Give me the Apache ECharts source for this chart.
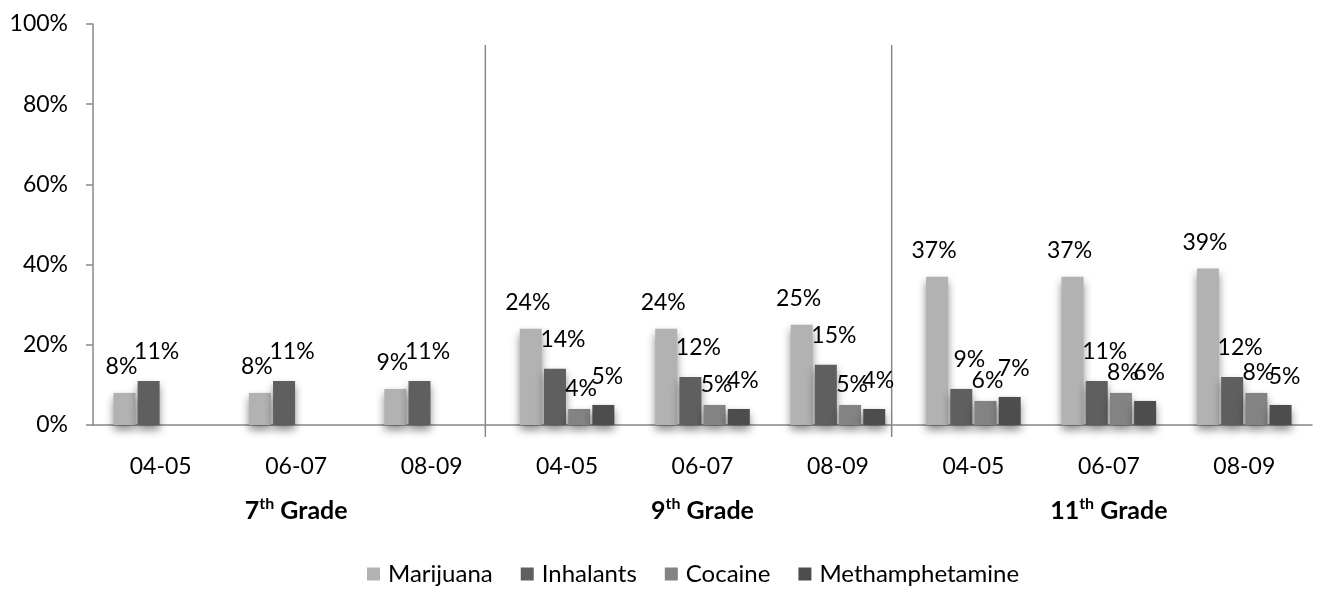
<!DOCTYPE html>
<html>
<head>
<meta charset="utf-8">
<script src="https://cdn.jsdelivr.net/npm/echarts@6/dist/echarts.min.js"></script>
<style>
  html, body { margin: 0; padding: 0; background: #fff; }
  #chart { width: 1320px; height: 589px; }
</style>
</head>
<body>
<div id="chart"></div>
<script>
const years = ["04-05", "06-07", "08-09", "04-05", "06-07", "08-09", "04-05", "06-07", "08-09"];
const grades = ["7th Grade", "9th Grade", "11th Grade"];
const yTicks = ["0%", "20%", "40%", "60%", "80%", "100%"];

const marijuana = [8, 8, 9, 24, 24, 25, 37, 37, 39];
const inhalants = [11, 11, 11, 14, 12, 15, 9, 11, 12];
const cocaine = [null, null, null, 4, 5, 5, 6, 8, 8];
const methamphetamine = [null, null, null, 5, 4, 4, 7, 6, 5];

const font = "Lato, 'Open Sans', sans-serif";

const chart = echarts.init(document.getElementById("chart"));

function barSeries(name, data, color, distance, offsetX) {
  return {
    name: name,
    type: "bar",
    data: data,
    barWidth: 22,
    barGap: "10%",
    itemStyle: {
      color: color,
      shadowBlur: 8,
      shadowColor: "rgba(0,0,0,0.45)",
      shadowOffsetY: 5,
    },
    label: {
      show: true,
      position: "top",
      distance: distance,
      offset: [offsetX, 0],
      formatter: "{c}%",
      fontFamily: font,
      fontSize: 23,
      color: "#000",
    },
  };
}

const option = {
  animation: false,
  grid: { left: 93, right: 8, top: 24, bottom: 164 },
  legend: {
    top: 557,
    left: 362,
    icon: "rect",
    itemWidth: 13,
    itemHeight: 13,
    itemGap: 28,
    textStyle: { fontFamily: font, fontSize: 24, color: "#000", padding: [0, 0, 0, 3] },
  },
  xAxis: [
    {
      type: "category",
      data: years,
      axisLine: { lineStyle: { color: "#888", width: 1.5 } },
      axisTick: { length: 8, lineStyle: { color: "#888", width: 1.5 } },
      axisLabel: { fontFamily: font, fontSize: 23, color: "#000", margin: 30 },
    },
    {
      type: "category",
      data: grades,
      position: "bottom",
      axisLine: { show: false },
      axisTick: { show: false },
      axisLabel: {
        margin: 71,
        formatter: function (v) {
          const n = v.split(" ")[0].replace("th", "");
          return "{b|" + n + "}{sup|th}{b| Grade}";
        },
        rich: {
          b: { fontFamily: font, fontSize: 25, fontWeight: "bold", color: "#000", lineHeight: 30 },
          sup: { fontFamily: font, fontSize: 16, fontWeight: "bold", color: "#000", lineHeight: 30, padding: [0, 0, 14, 0] },
        },
      },
    },
  ],
  yAxis: {
    type: "value",
    min: 0,
    max: 100,
    interval: 20,
    splitLine: { show: false },
    axisLine: { show: true, lineStyle: { color: "#888", width: 1.5 } },
    axisTick: { show: true, length: 7, lineStyle: { color: "#888", width: 1.5 } },
    axisLabel: {
      fontFamily: font,
      fontSize: 23,
      color: "#000",
      margin: 25,
      formatter: function (v) { return yTicks[v / 20]; },
    },
  },
  series: [
    barSeries("Marijuana", marijuana, "#b2b2b2", 15, -3),
    barSeries("Inhalants", inhalants, "#5f5f5f", 18, 8),
    barSeries("Cocaine", cocaine, "#838383", 9, 2),
    barSeries("Methamphetamine", methamphetamine, "#4d4d4d", 17, 4),
  ],
};

chart.setOption(option);

// group separators between grades
const sepLines = [];
[2, 5].forEach(function (i) {
  const a = chart.convertToPixel({ xAxisIndex: 0 }, i);
  const b = chart.convertToPixel({ xAxisIndex: 0 }, i + 1);
  const x = (a + b) / 2 - 14;
  sepLines.push({
    type: "line",
    shape: { x1: x, y1: 45, x2: x, y2: 437 },
    style: { stroke: "#888", lineWidth: 1.5 },
  });
});
chart.setOption({ graphic: sepLines });
</script>
</body>
</html>
